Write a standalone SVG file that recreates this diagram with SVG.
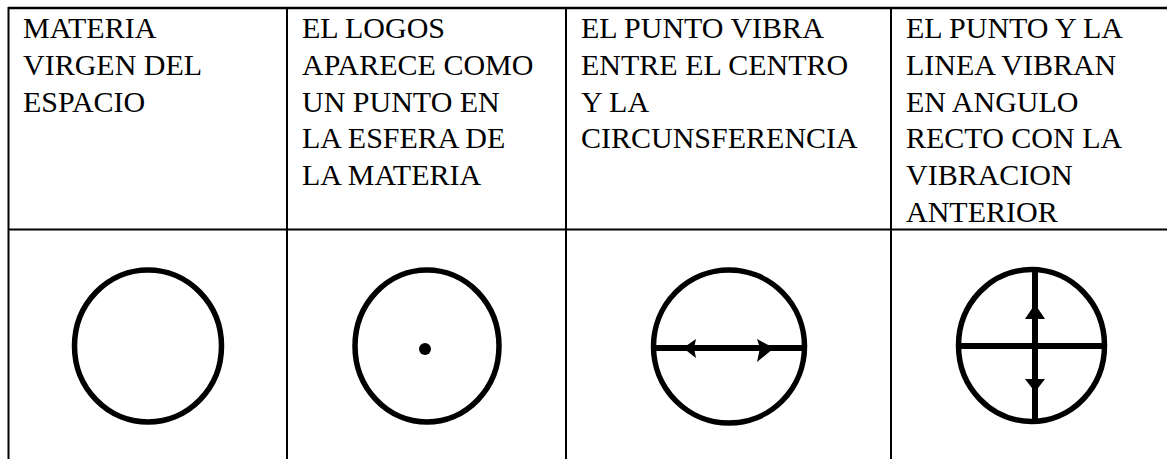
<svg xmlns="http://www.w3.org/2000/svg" width="1167" height="459" viewBox="0 0 1167 459" font-family="'Times New Roman', 'Liberation Serif', Tinos, serif">
  <defs>
    <style>
      .grid { stroke: #000; stroke-width: 2; fill: none; }
      .ring { fill: none; stroke: #000; stroke-width: 5.5; }
      .bar { stroke: #000; stroke-width: 6; fill: none; }
      .head { fill: #000; stroke: none; }
    </style>
  </defs>
  <rect x="0" y="0" width="1167" height="459" fill="#fff"/>
  <g id="table" class="grid">
    <line x1="8" y1="8" x2="1167" y2="8" stroke-width="2.5"/>
    <line x1="8" y1="229.5" x2="1167" y2="229.5"/>
    <line x1="8.5" y1="7" x2="8.5" y2="459"/>
    <line x1="287" y1="7" x2="287" y2="459"/>
    <line x1="566" y1="7" x2="566" y2="459"/>
    <line x1="891" y1="7" x2="891" y2="459"/>
  </g>
  <g id="col1" font-size="30">
    <text x="23" y="38" font-family="Times New Roman">MATERIA</text>
    <text x="23" y="74.8" font-family="Times New Roman">VIRGEN DEL</text>
    <text x="23" y="111.6" font-family="Times New Roman">ESPACIO</text>
    <ellipse class="ring" cx="148" cy="346" rx="73.5" ry="76"/>
  </g>
  <g id="col2" font-size="30">
    <text x="302" y="38" font-family="Times New Roman">EL LOGOS</text>
    <text x="302" y="74.8" font-family="Times New Roman">APARECE COMO</text>
    <text x="302" y="111.6" font-family="Times New Roman">UN PUNTO EN</text>
    <text x="302" y="148.4" font-family="Times New Roman">LA ESFERA DE</text>
    <text x="302" y="185.2" font-family="Times New Roman">LA MATERIA</text>
    <ellipse class="ring" cx="427" cy="346" rx="72" ry="76"/>
    <circle cx="425" cy="349" r="6" fill="#000"/>
  </g>
  <g id="col3" font-size="30">
    <text x="581" y="38" font-family="Times New Roman">EL PUNTO VIBRA</text>
    <text x="581" y="74.8" font-family="Times New Roman">ENTRE EL CENTRO</text>
    <text x="581" y="111.6" font-family="Times New Roman">Y LA</text>
    <text x="581" y="148.4" font-family="Times New Roman">CIRCUNSFERENCIA</text>
    <ellipse class="ring" cx="729" cy="346.5" rx="75.5" ry="76.5"/>
    <line class="bar" x1="652" y1="348" x2="806" y2="348"/>
    <polygon class="head" points="683,348 696,339 694,348 696,358"/>
    <polygon class="head" points="774,348 757,339 760,348 757,362"/>
  </g>
  <g id="col4" font-size="30">
    <text x="906" y="38" font-family="Times New Roman">EL PUNTO Y LA</text>
    <text x="906" y="74.8" font-family="Times New Roman">LINEA VIBRAN</text>
    <text x="906" y="111.6" font-family="Times New Roman">EN ANGULO</text>
    <text x="906" y="148.4" font-family="Times New Roman">RECTO CON LA</text>
    <text x="906" y="185.2" font-family="Times New Roman">VIBRACION</text>
    <text x="906" y="222" font-family="Times New Roman">ANTERIOR</text>
    <ellipse class="ring" cx="1031.5" cy="345.5" rx="73" ry="76"/>
    <line class="bar" x1="957" y1="346" x2="1106" y2="346"/>
    <line class="bar" x1="1035" y1="268" x2="1035" y2="423" stroke-width="5"/>
    <polygon class="head" points="1035,304 1045,319 1025,319"/>
    <polygon class="head" points="1035,392 1045,379 1025,379"/>
  </g>
</svg>
